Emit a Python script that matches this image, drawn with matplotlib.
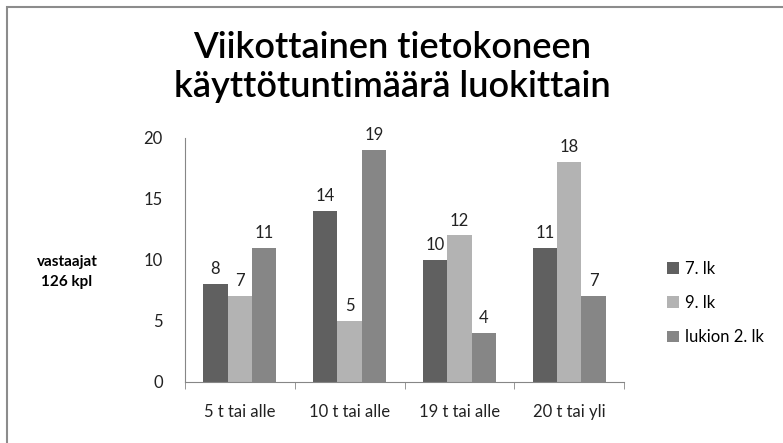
import numpy as np
import matplotlib.pyplot as plt
from matplotlib.patches import Rectangle

plt.rcParams['font.family'] = ['Lato', 'DejaVu Sans']

# Data
luokat = ["5 t tai alle", "10 t tai alle", "19 t tai alle", "20 t tai yli"]
sarjat = ["7. lk", "9. lk", "lukion 2. lk"]
lk7 = [8, 14, 10, 11]
lk9 = [7, 5, 12, 18]
lukio2 = [11, 19, 4, 7]
arvot = [lk7, lk9, lukio2]
varit = ["#606060", "#b3b3b3", "#868686"]

fig = plt.figure(figsize=(7.83, 4.43), dpi=100)

# kehys
fig.patches.append(Rectangle((7/783, -0.05), 1.1, (443-7)/443 + 0.05,
                             transform=fig.transFigure, fill=False,
                             edgecolor="#8c8c8c", linewidth=1.5))

ax = fig.add_axes([185/783, (443-381.7)/443, (624-185)/783, (381.7-138)/443])

x = np.arange(len(luokat))
w = 1/4.5
for i, (s, v, c) in enumerate(zip(sarjat, arvot, varit)):
    pos = x + (i - 1) * w
    ax.bar(pos, v, width=w, color=c, label=s)
    for px, val in zip(pos, v):
        ax.annotate(str(val), (px, val), xytext=(0, 5), textcoords="offset points",
                    ha="center", va="bottom", fontsize=12, color="#222222")

ax.set_xlim(-0.5, len(luokat) - 0.5)
ax.set_ylim(0, 20)
ax.set_yticks([0, 5, 10, 15, 20])

ax.set_xticks(x)
ax.set_xticklabels(luokat, fontsize=12)
ax.tick_params(axis="x", length=0, pad=16, colors="#222222")
ax.set_xticks(np.arange(-0.5, len(luokat), 1), minor=True)
ax.tick_params(axis="x", which="minor", length=5, color="#868686")
ax.tick_params(axis="y", length=0, pad=16, labelsize=12, colors="#222222")

for sp in ["top", "right"]:
    ax.spines[sp].set_visible(False)
ax.spines["left"].set_color("#868686")
ax.spines["bottom"].set_color("#868686")

fig.text(67/783, 1 - 272/443, "vastaajat\n126 kpl", ha="center", va="center",
         fontsize=11, fontweight="bold", linespacing=1.5)

fig.text(392/783, 1 - 67/443, "Viikottainen tietokoneen\nkäyttötuntimäärä luokittain",
         ha="center", va="center", fontsize=26, fontweight="semibold",
         linespacing=1.2)

ax.legend(loc="center left", bbox_to_anchor=(652/783, 1 - 303/443),
          bbox_transform=fig.transFigure, frameon=False, fontsize=12,
          handlelength=0.7, handleheight=0.7, handletextpad=0.4, labelspacing=1.1)

fig.savefig("out.png", dpi=100)
